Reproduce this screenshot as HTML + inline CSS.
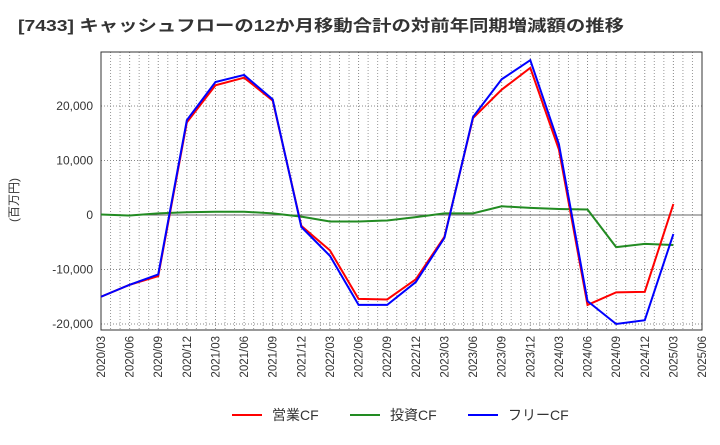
<!DOCTYPE html>
<html><head><meta charset="utf-8"><style>
body{margin:0;background:#fff;font-family:"Liberation Sans","Noto Sans CJK JP",sans-serif}
</style></head><body>
<svg id="c" width="720" height="440" xmlns="http://www.w3.org/2000/svg">
<text x="18" y="31" font-size="16" font-weight="bold" fill="#333" textLength="606" lengthAdjust="spacingAndGlyphs" font-family="Liberation Sans,Noto Sans CJK JP,sans-serif">[7433]  キャッシュフローの12か月移動合計の対前年同期増減額の推移</text>
<text transform="translate(18,200) rotate(-90)" font-size="12" fill="#333" text-anchor="middle" font-family="Liberation Sans,Noto Sans CJK JP,sans-serif">(百万円)</text>
<g id="grid"></g><g id="axes"></g><g id="series"></g>
<g font-size="14" fill="#333" font-family="Liberation Sans,Noto Sans CJK JP,sans-serif">
<line x1="232" y1="415" x2="262" y2="415" stroke="#f00" stroke-width="2"/><text x="272" y="420">営業CF</text>
<line x1="350" y1="415" x2="380" y2="415" stroke="#228b22" stroke-width="2"/><text x="390" y="420">投資CF</text>
<line x1="468" y1="415" x2="498" y2="415" stroke="#00f" stroke-width="2"/><text x="508" y="420">フリーCF</text>
</g>
</svg>
<script>
const xLabels=["2020/03","2020/06","2020/09","2020/12","2021/03","2021/06","2021/09","2021/12","2022/03","2022/06","2022/09","2022/12","2023/03","2023/06","2023/09","2023/12","2024/03","2024/06","2024/09","2024/12","2025/03","2025/06"];
const yTicks=[-20000,-10000,0,10000,20000];
const operatingCF=[-15000,-12800,-11200,17000,23800,25200,21000,-2000,-6500,-15400,-15500,-11800,-4000,17800,23000,27000,12000,-16500,-14200,-14100,2000];
const investingCF=[100,-100,300,500,600,600,300,-300,-1200,-1200,-1000,-400,300,300,1600,1300,1100,1000,-5900,-5300,-5500];
const freeCF=[-15000,-12800,-10900,17400,24400,25700,21200,-2200,-7500,-16500,-16500,-12300,-4200,18000,24900,28400,13000,-15800,-20000,-19300,-3500];
const L=101,R=702,T=52,B=330,NS="http://www.w3.org/2000/svg";
const x=i=>L+(R-L)*i/21;
const y=v=>215-v*54.5/10000;
function mk(p,t,a){const e=document.createElementNS(NS,t);for(const k in a)e.setAttribute(k,a[k]);document.getElementById(p).appendChild(e);return e;}
for(let m=1;m<63;m++){if(m%3===0)continue;const l=mk('grid','line',{x1:L+(R-L)*m/63,x2:L+(R-L)*m/63,y1:T,y2:B,stroke:'#999','stroke-dasharray':'1,2'});

}
for(let i=1;i<21;i++){const l=mk('grid','line',{x1:x(i),x2:x(i),y1:T,y2:B,stroke:'#888','stroke-dasharray':'1,2'});

}
yTicks.forEach(v=>{const l=mk('grid','line',{x1:L,x2:R,y1:y(v),y2:y(v),stroke:v===0?'#666':'#888','stroke-dasharray':v===0?'':'1,2'});


const t=mk('axes','text',{x:L-8,y:y(v)+4,'text-anchor':'end','font-size':12,fill:'#333'});t.textContent=v.toLocaleString('en-US');

});
const fr=mk('axes','rect',{x:L,y:T,width:R-L,height:B-T,fill:'none',stroke:'#333'});


xLabels.forEach((s,i)=>{const t=mk('axes','text',{transform:`translate(${x(i)+4},${B+6}) rotate(-90)`,'text-anchor':'end','font-size':11.5,fill:'#333'});t.textContent=s;

});
[[investingCF,'#228b22','investing-cf-line'],[operatingCF,'#f00','operating-cf-line'],[freeCF,'#00f','free-cf-line']].forEach(([d,c,n])=>{
const p=mk('series','polyline',{points:d.map((v,i)=>x(i)+','+y(v)).join(' '),fill:'none',stroke:c,'stroke-width':2});

});
</script>
</body></html>
